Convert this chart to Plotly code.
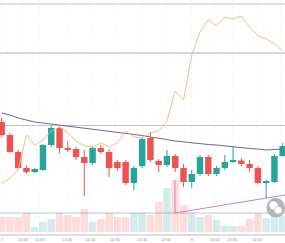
import plotly.graph_objects as go

# ---------------- data ----------------
idx = list(range(35))

opens  = [52.1, 50.8, 49.1, 47.5, 47.1, 47.3, 49.8, 51.5, 49.5, 49.4, 48.6, 48.0, 49.5, 49.1, 48.1, 48.1, 46.0, 47.7,
          50.5, 48.2, 47.8, 48.7, 47.5, 46.1, 46.9, 48.6, 46.9, 47.5, 48.15, 48.25, 47.9, 47.5, 46.0, 46.1, 48.7]
highs  = [52.5, 51.0, 49.3, 47.8, 47.5, 49.9, 51.7, 51.6, 50.2, 49.6, 49.3, 49.7, 49.8, 49.4, 48.3, 48.3, 47.7, 50.6,
          51.1, 48.4, 49.3, 48.9, 47.9, 47.3, 48.8, 48.8, 47.7, 48.8, 49.7, 48.5, 48.3, 47.7, 46.3, 48.9, 50.0]
lows   = [50.6, 49.0, 47.3, 46.9, 47.0, 47.2, 49.6, 49.0, 49.1, 48.3, 44.7, 47.8, 48.9, 46.6, 47.2, 45.8, 45.3, 47.5,
          48.1, 47.1, 47.6, 47.1, 45.6, 45.5, 46.7, 46.7, 46.7, 47.3, 48.0, 47.7, 47.1, 45.9, 44.5, 46.0, 48.6]
closes = [50.8, 49.1, 47.5, 47.1, 47.4, 49.8, 51.5, 49.5, 49.3, 48.6, 48.0, 49.5, 49.1, 47.5, 47.5, 46.0, 47.5, 50.4,
          48.3, 47.8, 48.7, 47.5, 46.1, 46.9, 48.6, 46.9, 47.5, 48.1, 48.25, 47.9, 47.5, 46.0, 46.15, 48.7, 49.7]

ma_line = [53.0, 52.8, 52.5, 52.3, 52.1, 52.0, 51.9, 51.8, 51.7, 51.6, 51.5, 51.4, 51.3, 51.2, 51.1, 51.0, 50.85, 50.75,
           50.6, 50.5, 50.35, 50.2, 50.1, 50.0, 49.9, 49.85, 49.8, 49.7, 49.6, 49.55, 49.45, 49.4, 49.3, 49.35, 49.4]

indicator = [24.3, 26.7, 30.0, 44.4, 40.3, 42.4, 46.1, 47.7, 45.3, 42.0, 39.9, 39.5, 41.2, 39.5, 41.2, 46.1, 43.6, 43.2,
             45.3, 46.1, 50.2, 62.5, 58.8, 77.4, 86.8, 91.8, 89.3, 93.0, 92.2, 93.4, 88.9, 85.2, 84.0, 81.9, 79.0]

volumes = [150, 150, 150, 190, 50, 100, 130, 190, 170, 150, 230, 100, 130, 190, 150, 150, 190, 190,
           170, 300, 440, 520, 270, 190, 150, 170, 120, 60, 60, 60, 130, 190, 140, 150, 170]

price_levels = [63.9, 59.0, 51.75, 43.0]

trend_x = [20.97, 20.97, 34.28]
trend_y = [520, 190, 370]

tick_pos = [0, 2.58, 4.63, 7.9, 10.7, 13.7, 17.0, 19.9, 23.0, 25.8, 27.9, 30.9, 33.7]
tick_text = ["7", "10:30", "11:00", "13:30", "14:00", "14:30", "21:30", "22:00", "8", "10:00", "10:30", "11:00", "13:30"]

# ---------------- styles ----------------
UP = "#26a69a"
DOWN = "#ef5350"
is_up = [c >= o for o, c in zip(opens, closes)]
body_colors = [UP if u else DOWN for u in is_up]
vol_colors = ["rgba(38,166,154,0.2)" if u else "rgba(239,83,80,0.2)" for u in is_up]
body_base = [min(o, c) for o, c in zip(opens, closes)]
body_len = [max(abs(c - o), 0.12) for o, c in zip(opens, closes)]

fig = go.Figure()

# volume (main y axis, drawn first)
fig.add_trace(go.Bar(x=idx, y=volumes, marker=dict(color=vol_colors, line=dict(width=0)),
                     yaxis="y", showlegend=False, hoverinfo="skip"))
fig.add_trace(go.Scatter(x=trend_x, y=trend_y, mode="lines", line=dict(color="#d77bb5", width=1),
                         yaxis="y", showlegend=False, hoverinfo="skip"))

# price: moving average
fig.add_trace(go.Scatter(x=idx, y=ma_line, mode="lines", line=dict(color="#6b63a8", width=1),
                         yaxis="y2", showlegend=False, hoverinfo="skip"))

# wicks
for flag, col in ((True, UP), (False, DOWN)):
    wx, wy = [], []
    for i in idx:
        if is_up[i] == flag:
            wx += [i, i, None]
            wy += [lows[i], highs[i], None]
    fig.add_trace(go.Scatter(x=wx, y=wy, mode="lines", line=dict(color=col, width=1),
                             yaxis="y2", showlegend=False, hoverinfo="skip", connectgaps=False))

# bodies
fig.add_trace(go.Bar(x=idx, y=body_len, base=body_base, width=0.78,
                     marker=dict(color=body_colors, line=dict(width=0)),
                     yaxis="y2", showlegend=False, hoverinfo="skip"))

# indicator line
fig.add_trace(go.Scatter(x=idx, y=indicator, mode="lines", line=dict(color="#e7c483", width=1),
                         yaxis="y3", showlegend=False, hoverinfo="skip"))

for i, lvl in enumerate(price_levels):
    fig.add_shape(type="line", xref="paper", x0=0, x1=1, yref="y2", y0=lvl, y1=lvl,
                  line=dict(color="#9fb6c8" if i == 1 else "#b7c7d6", width=1), layer="below")

# watermark-like icon
fig.add_shape(type="circle", xref="paper", yref="paper", x0=0.935, x1=1.0, y0=0.07, y1=0.155,
              fillcolor="#b5b5b5", line=dict(width=0), layer="above")
fig.add_shape(type="circle", xref="paper", yref="paper", x0=0.945, x1=0.975, y0=0.105, y1=0.14,
              fillcolor="white", line=dict(width=0), layer="above")
fig.add_shape(type="circle", xref="paper", yref="paper", x0=0.962, x1=0.99, y0=0.085, y1=0.118,
              fillcolor="white", line=dict(color="#b5b5b5", width=0.6), layer="above")

hidden = dict(visible=False, showgrid=False, zeroline=False, fixedrange=True)
fig.update_layout(
    width=285, height=243,
    margin=dict(l=0, r=0, t=0, b=9),
    paper_bgcolor="white", plot_bgcolor="white",
    bargap=0.08,
    showlegend=False,
    xaxis=dict(range=[-0.2, 34.28], showgrid=True,
               gridcolor="#f1f3f6", griddash="dot", gridwidth=1, zeroline=False,
               tickmode="array", tickvals=tick_pos, ticktext=tick_text,
               tickfont=dict(size=4, color="#8d939c", family="Liberation Sans"),
               ticks="", showline=True, linecolor="#dedede", linewidth=2, fixedrange=True),
    yaxis=dict(range=[-20, 2320], **hidden),
    yaxis2=dict(range=[40.9, 64.3], overlaying="y", **hidden),
    yaxis3=dict(range=[3.7037, 100], overlaying="y", **hidden),
)

fig.write_html("out.html", config=dict(displayModeBar=False))
